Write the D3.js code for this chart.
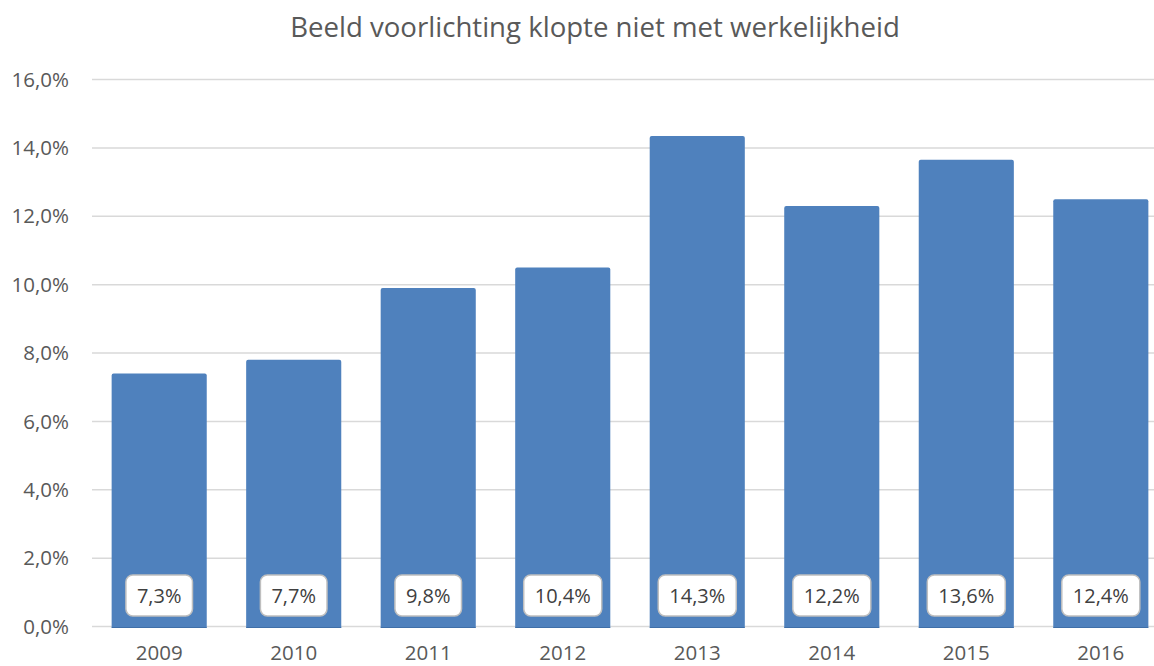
<!DOCTYPE html>
<html>
<head>
<meta charset="utf-8">
<script src="https://cdn.jsdelivr.net/npm/d3@7"></script>
<style>
  html, body { margin: 0; padding: 0; background: #fff; }
  svg { display: block; font-family: "Open Sans", sans-serif; }
</style>
</head>
<body>
<svg id="chart" width="1154" height="666"></svg>
<script>
/* data */
const years      = ["2009", "2010", "2011", "2012", "2013", "2014", "2015", "2016"];
const barValues  = [7.4, 7.8, 9.9, 10.5, 14.35, 12.3, 13.65, 12.5];
const barLabels  = ["7,3%", "7,7%", "9,8%", "10,4%", "14,3%", "12,2%", "13,6%", "12,4%"];
const yTicks     = [0, 2, 4, 6, 8, 10, 12, 14, 16];
const title      = "Beeld voorlichting klopte niet met werkelijkheid";

const svg = d3.select("#chart");
const width = 1154, height = 666;
const margin = { left: 92, right: -14, top: 80, bottom: 40 };

const x = d3.scaleBand()
  .domain(years)
  .range([margin.left, width - margin.right])
  .paddingInner(0.293)
  .paddingOuter(0.146);

const y = d3.scaleLinear()
  .domain([0, 16])
  .range([height - margin.bottom + 0.5, 79.5]);

const fmt = v => v.toFixed(1).replace(".", ",") + "%";

/* title */
svg.append("text")
  .attr("x", 595)
  .attr("y", 37)
  .attr("text-anchor", "middle")
  .attr("font-size", "27.6px")
  .attr("fill", "#595959")
  .text(title);

/* gridlines */
svg.append("g")
  .selectAll("line")
  .data(yTicks)
  .join("line")
  .attr("x1", margin.left)
  .attr("x2", width)
  .attr("y1", d => y(d))
  .attr("y2", d => y(d))
  .attr("stroke", "#d9d9d9")
  .attr("stroke-width", 1.5);

/* y axis labels */
svg.append("g")
  .selectAll("text")
  .data(yTicks)
  .join("text")
  .attr("x", 69)
  .attr("y", d => y(d))
  .attr("dy", "0.35em")
  .attr("text-anchor", "end")
  .attr("font-size", "20.5px")
  .attr("fill", "#595959")
  .text(fmt);

/* bars */
const bars = svg.append("g")
  .selectAll("g")
  .data(years.map((yr, i) => ({ yr, v: barValues[i], label: barLabels[i] })))
  .join("g");

bars.append("path")
  .attr("d", d => {
    const x0 = x(d.yr), x1 = x0 + x.bandwidth();
    const t = y(d.v), b = y(0) + 1, r = 2;
    return `M${x0},${b} L${x0},${t + r} Q${x0},${t} ${x0 + r},${t} L${x1 - r},${t} Q${x1},${t} ${x1},${t + r} L${x1},${b} Z`;
  })
  .attr("fill", "#4f81bd");

/* baseline under the bars */
bars.append("line")
  .attr("x1", d => x(d.yr))
  .attr("x2", d => x(d.yr) + x.bandwidth())
  .attr("y1", y(0) + 1)
  .attr("y2", y(0) + 1)
  .attr("stroke", "#3f6fa8")
  .attr("stroke-width", 1);

/* value labels in rounded boxes */
const lbl = bars.append("g")
  .attr("transform", d => `translate(${x(d.yr) + x.bandwidth() / 2},595.5)`);

lbl.append("rect").attr("class", "box");
lbl.append("text")
  .attr("text-anchor", "middle")
  .attr("dy", "0.35em")
  .attr("font-size", "20px")
  .attr("fill", "#404040")
  .text(d => d.label);

lbl.each(function() {
  const g = d3.select(this);
  const w = g.select("text").node().getComputedTextLength() + 22;
  g.select("rect")
    .attr("x", -w / 2).attr("y", -20.5)
    .attr("width", w).attr("height", 41)
    .attr("rx", 7).attr("ry", 7)
    .attr("fill", "#fff")
    .attr("stroke", "#bfbfbf")
    .attr("stroke-width", 1.5);
});

/* x axis labels */
svg.append("g")
  .selectAll("text")
  .data(years)
  .join("text")
  .attr("x", d => x(d) + x.bandwidth() / 2)
  .attr("y", 660)
  .attr("text-anchor", "middle")
  .attr("font-size", "20.5px")
  .attr("fill", "#595959")
  .text(d => d);
</script>
</body>
</html>
